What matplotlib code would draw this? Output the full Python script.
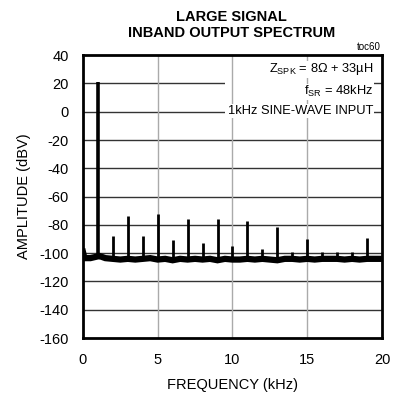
import matplotlib.pyplot as plt
from matplotlib.patches import Rectangle

plt.rcParams['font.family'] = ['Liberation Sans', 'DejaVu Sans']
plt.rcParams['axes.unicode_minus'] = False

# harmonic spikes (kHz, dBV)
harm_freq = [1, 2, 3, 4, 5, 6, 7, 8, 9, 10, 11, 12, 13, 14, 15, 16, 17, 18, 19]
harm_level = [21, -88, -73.5, -87.5, -72, -90.5, -76, -92.5, -76, -95,
              -77, -97, -81.5, -99.5, -90, -99, -99, -99, -89.5]

# noise floor (kHz, dBV)
floor_freq = [0, 0.1, 0.5, 0.9, 1.1, 1.5, 2.0, 2.5, 3.0, 3.5, 4.0, 4.5, 5.0, 5.5, 6.0,
              6.5, 7.0, 7.5, 8.0, 8.5, 9.0, 9.5, 10.0, 10.5, 11.0, 11.5, 12.0,
              12.5, 13.0, 13.5, 14.0, 14.5, 15.0, 15.5, 16.0, 16.5, 17.0, 17.5,
              18.0, 18.5, 19.0, 19.5, 20.0]
floor_level = [-99, -103.5, -103.5, -102.5, -102, -103.5, -104, -104.5, -104, -104.5, -104,
               -103.5, -104.5, -104, -105, -104, -104.5, -104, -104.5, -104, -105,
               -104, -104.5, -104.5, -104, -104.5, -104, -104.5, -105, -104, -104,
               -104.5, -104, -104.5, -104, -104, -104, -104.5, -104, -104.5, -104,
               -104, -104]

fig = plt.figure(figsize=(3.93, 3.94), dpi=100)
ax = fig.add_axes([0.211, 0.142, 0.761, 0.718])

ax.plot(floor_freq, floor_level, color='black', lw=4.5, solid_joinstyle='miter', zorder=3)
for f, lv in zip(harm_freq, harm_level):
    ax.vlines(f, -104, lv, color='black', lw=2.6 if f == 1 else 2.0, zorder=3)

ax.set_xlim(0, 20)
ax.set_ylim(-160, 40)
ax.set_xticks([0, 5, 10, 15, 20])
ax.set_yticks(range(-160, 41, 20))
for y in range(-140, 40, 20):
    ax.axhline(y, color='#333333', lw=1, zorder=0)
for x in [5, 10, 15]:
    ax.axvline(x, color='#aaaaaa', lw=1, zorder=1)
for s in ax.spines.values():
    s.set_linewidth(2)
ax.tick_params(length=0, labelsize=10.5)
ax.tick_params(axis='y', pad=10)
ax.tick_params(axis='x', pad=11)

ax.set_xlabel('FREQUENCY (kHz)', fontsize=10.5, labelpad=8)
ax.set_ylabel('AMPLITUDE (dBV)', fontsize=10.5, labelpad=6)
fig.text(0.59, 0.975, 'LARGE SIGNAL\nINBAND OUTPUT SPECTRUM', ha='center', va='top',
         fontsize=10.5, fontweight='bold', linespacing=1.2)
fig.text(0.968, 0.868, 'toc60', ha='right', va='bottom', fontsize=7)

# white block hides the horizontal gridlines behind the condition notes
ax.add_patch(Rectangle((9.5, -4), 9.95, 43, facecolor='white', edgecolor='none', zorder=0.5))
box = dict(facecolor='white', edgecolor='none', pad=0.5)
ax.text(19.4, 30, r'Z$_{\mathregular{SPK}}$ = 8Ω + 33µH',
        ha='right', va='center', fontsize=9.3, zorder=2, bbox=box)
ax.text(19.4, 14, r'f$_{\mathregular{SR}}$ = 48kHz',
        ha='right', va='center', fontsize=9.3, zorder=2, bbox=box)
ax.text(19.4, 0.5, '1kHz SINE-WAVE INPUT',
        ha='right', va='center', fontsize=9.3, zorder=2, bbox=box)

fig.savefig('out.png', dpi=100)
